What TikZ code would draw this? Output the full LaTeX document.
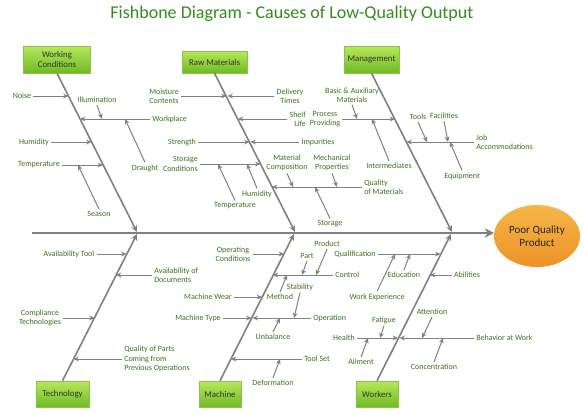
\documentclass[tikz,border=0pt]{standalone}
\usepackage{fontspec}
\setmainfont{Carlito}
\usetikzlibrary{shapes.geometric,arrows.meta}
\definecolor{lblgreen}{RGB}{62,112,32}
\definecolor{titlegreen}{RGB}{52,140,30}
\definecolor{bonegray}{RGB}{128,128,128}
\definecolor{boxtop}{RGB}{182,232,92}
\definecolor{boxbot}{RGB}{112,186,36}
\definecolor{boxline}{RGB}{140,196,70}
\definecolor{headtop}{RGB}{246,182,72}
\definecolor{headbot}{RGB}{236,146,40}
\tikzset{
  lbl/.style={font=\fontsize{6}{7}\selectfont, text=lblgreen, inner sep=1.5pt, align=center},
  arr/.style={draw=bonegray, line width=0.75pt, -{Stealth[length=4pt,width=3.6pt]}},
  bone/.style={draw=bonegray, line width=1.2pt, -{Stealth[length=5pt,width=4.5pt]}},
  spine/.style={draw=bonegray, line width=2.2pt, -{Stealth[length=7pt,width=7pt]}},
  catbox/.style={rectangle, draw=boxline, line width=0.4pt, top color=boxtop, bottom color=boxbot,
     font=\fontsize{6.6}{7.8}\selectfont, text={black!80}, align=center, inner sep=1pt},
}
\begin{document}
\begin{tikzpicture}[x=0.75pt,y=-0.75pt]
\useasboundingbox (0,0) rectangle (584,414);
\fill[white] (0,0) rectangle (584,414);

% title
\node[font=\fontsize{13.5}{15}\selectfont, text=titlegreen] (title) at (292,14) {Fishbone Diagram - Causes of Low-Quality Output};

% head
\node[ellipse, top color=headtop, bottom color=headbot, minimum width=86*0.75pt, minimum height=62*0.75pt,
  font=\fontsize{8.3}{10}\selectfont, text={black!85}, align=center, inner sep=0pt] (head) at (537,236) {Poor Quality\\Product};

% spine
\coordinate (tail) at (32,233);
\coordinate (tip) at (494,233);
\draw[spine] (tail) -- (tip);

% category boxes
\node[catbox, minimum width=67*0.75pt, minimum height=27*0.75pt] (wcbox) at (57,59.5) {Working\\Conditions};
\node[catbox, minimum width=65*0.75pt, minimum height=22*0.75pt] (rmbox) at (214.5,62) {Raw Materials};
\node[catbox, minimum width=55*0.75pt, minimum height=27*0.75pt] (mgbox) at (371.5,59.5) {Management};
\node[catbox, minimum width=53*0.75pt, minimum height=26*0.75pt] (techbox) at (62.5,394) {Technology};
\node[catbox, minimum width=42*0.75pt, minimum height=26*0.75pt] (machbox) at (220,394) {Machine};
\node[catbox, minimum width=42*0.75pt, minimum height=26*0.75pt] (workbox) at (377,394) {Workers};

% main bones
\coordinate (wcend) at (137,232);
\coordinate (rmend) at (295,232);
\coordinate (mgend) at (452,232);
\coordinate (techend) at (137,234);
\coordinate (machend) at (294,234);
\coordinate (workend) at (451,234);
\draw[bone] (wcbox.south) -- (wcend);
\draw[bone] (rmbox.south) -- (rmend);
\draw[bone] (mgbox.south) -- (mgend);
\draw[bone] (techbox.north) -- (techend);
\draw[bone] (machbox.north) -- (machend);
\draw[bone] (workbox.north) -- (workend);

% ---------- Working Conditions ----------
\node[lbl] (noise) at (22,96) {Noise};
\node[lbl] (illum) at (97,100) {Illumination};
\node[lbl, anchor=west] (workpl) at (150,119) {Workplace};
\node[lbl] (draught) at (145,168) {Draught};
\node[lbl] (humid1) at (34,142) {Humidity};
\node[lbl] (temp1) at (39,165) {Temperature};
\node[lbl] (season) at (99,214) {Season};
\coordinate (wc1) at (68.5,96);
\coordinate (wc2) at (80,119);
\coordinate (wc2a) at (102,119);
\coordinate (wc2b) at (125,119);
\coordinate (wc3) at (91.5,142);
\coordinate (wc4) at (103,165);
\coordinate (wc4a) at (78,165);
\draw[arr] (noise.east) -- (wc1);
\draw[arr] (workpl.west) -- (wc2);
\draw[arr] (illum.south) -- (wc2a);
\draw[arr] (draught.north) -- (wc2b);
\draw[arr] (humid1.east) -- (wc3);
\draw[arr] (temp1.east) -- (wc4);
\draw[arr] (season.north) -- (wc4a);

% ---------- Raw Materials ----------
\node[lbl] (moist) at (164,96) {Moisture\\Contents};
\node[lbl] (deliv) at (290,96) {Delivery\\Times};
\node[lbl, anchor=east, align=right] (shelf) at (308,119) {Shelf\\Life};
\node[lbl] (streng) at (182,142) {Strength};
\node[lbl] (impur) at (318,142) {Impurities};
\node[lbl, anchor=east, align=right] (storc) at (200,164) {Storage\\Conditions};
\node[lbl] (temp2) at (235,206) {Temperature};
\node[lbl] (humid2) at (257,194) {Humidity};
\node[lbl] (matcomp) at (287,163) {Material\\Composition};
\node[lbl] (mechprop) at (332,163) {Mechanical\\Properties};
\node[lbl, anchor=west, align=left] (qualmat) at (362,187) {Quality\\of Materials};
\node[lbl] (storage) at (330,224) {Storage};
\coordinate (rm1) at (226.5,96);
\coordinate (rm1b) at (227.5,96);
\coordinate (rm2) at (238,119);
\coordinate (rm3) at (249.5,142);
\coordinate (rm3b) at (250.5,142);
\coordinate (rm4) at (260.5,164);
\coordinate (rm4a) at (218,164);
\coordinate (rm4b) at (247,164);
\coordinate (rm5) at (272,187);
\coordinate (rm5a) at (293,187);
\coordinate (rm5b) at (337,187);
\coordinate (rm5c) at (315,187);
\draw[arr] (moist.east) -- (rm1);
\draw[arr] (deliv.west) -- (rm1b);
\draw[arr] (shelf.west) -- (rm2);
\draw[arr] (streng.east) -- (rm3);
\draw[arr] (impur.west) -- (rm3b);
\draw[arr] (storc.east) -- (rm4);
\draw[arr] (temp2.north) -- (rm4a);
\draw[arr] (humid2.north) -- (rm4b);
\draw[arr] (qualmat.west) -- (rm5);
\draw[arr] (matcomp.south) -- (rm5a);
\draw[arr] (mechprop.south) -- (rm5b);
\draw[arr] (storage.north) -- (rm5c);

% ---------- Management ----------
\node[lbl] (basic) at (352,95) {Basic \& Auxiliary\\Materials};
\node[lbl] (procprov) at (325,119) {Process\\Providing};
\node[lbl] (interm) at (389,166) {Intermediates};
\node[lbl, anchor=west, align=left] (jobacc) at (474,142) {Job\\Accommodations};
\node[lbl] (tools) at (418,117) {Tools};
\node[lbl] (facil) at (444,116) {Facilities};
\node[lbl] (equip) at (462,176) {Equipment};
\coordinate (mg1) at (395,119);
\coordinate (mg1a) at (357,119);
\coordinate (mg1b) at (372,119);
\coordinate (mg2) at (406.5,142);
\coordinate (mg2a) at (427,142);
\coordinate (mg2b) at (448,142);
\coordinate (mg2c) at (450,142);
\draw[arr] (procprov.east) -- (mg1);
\draw[arr] (basic.south) -- (mg1a);
\draw[arr] (interm.north) -- (mg1b);
\draw[arr] (jobacc.west) -- (mg2);
\draw[arr] (tools.south) -- (mg2a);
\draw[arr] (facil.south) -- (mg2b);
\draw[arr] (equip.north) -- (mg2c);

% ---------- Technology ----------
\node[lbl] (avtool) at (69,254) {Availability Tool};
\node[lbl, anchor=west, align=left] (avdoc) at (152,275) {Availability of\\Documents};
\node[lbl] (compl) at (40,318) {Compliance\\Technologies};
\node[lbl, anchor=west, align=left] (qparts) at (122,359) {Quality of Parts\\Coming from\\Previous Operations};
\coordinate (te1) at (126.5,254);
\coordinate (te2) at (116,275);
\coordinate (te3) at (94.5,318);
\coordinate (te4) at (73.5,359);
\draw[arr] (avtool.east) -- (te1);
\draw[arr] (avdoc.west) -- (te2);
\draw[arr] (compl.east) -- (te3);
\draw[arr] (qparts.west) -- (te4);

% ---------- Machine ----------
\node[lbl] (opcond) at (233,254) {Operating\\Conditions};
\node[lbl, anchor=west] (control) at (333,275) {Control};
\node[lbl] (part) at (307,256) {Part};
\node[lbl] (product) at (327,244) {Product};
\node[lbl] (method) at (280,297) {Method};
\node[lbl] (mwear) at (208,297) {Machine Wear};
\node[lbl] (mtype) at (198,318) {Machine Type};
\node[lbl, anchor=west] (operation) at (311,318) {Operation};
\node[lbl] (stability) at (300,287) {Stability};
\node[lbl] (unbal) at (273,337) {Unbalance};
\node[lbl, anchor=west] (toolset) at (302,359) {Tool Set};
\node[lbl] (deform) at (273,383) {Deformation};
\coordinate (ma1) at (284,254);
\coordinate (ma2) at (273,275);
\coordinate (ma2a) at (302,275);
\coordinate (ma2b) at (316,275);
\coordinate (ma2c) at (287,275);
\coordinate (ma3) at (262,297);
\coordinate (ma4) at (251.5,318);
\coordinate (ma4b) at (252.5,318);
\coordinate (ma4c) at (294,318);
\coordinate (ma4d) at (280,318);
\coordinate (ma5) at (231,359);
\coordinate (ma5a) at (280,359);
\draw[arr] (opcond.east) -- (ma1);
\draw[arr] (control.west) -- (ma2);
\draw[arr] (part.south) -- (ma2a);
\draw[arr] (product.south) -- (ma2b);
\draw[arr] (method.north) -- (ma2c);
\draw[arr] (mwear.east) -- (ma3);
\draw[arr] (mtype.east) -- (ma4);
\draw[arr] (operation.west) -- (ma4b);
\draw[arr] (stability.south) -- (ma4c);
\draw[arr] (unbal.north) -- (ma4d);
\draw[arr] (toolset.west) -- (ma5);
\draw[arr] (deform.north) -- (ma5a);

% ---------- Workers ----------
\node[lbl] (qualif) at (355,254) {Qualification};
\node[lbl] (educ) at (404,275) {Education};
\node[lbl] (workexp) at (377,297) {Work Experience};
\node[lbl] (abil) at (467,275) {Abilities};
\node[lbl] (health) at (344,338) {Health};
\node[lbl, anchor=west] (behav) at (474,338) {Behavior at Work};
\node[lbl] (fatigue) at (384,320) {Fatigue};
\node[lbl] (ailment) at (361,362) {Ailment};
\node[lbl] (attention) at (432,312) {Attention};
\node[lbl] (concen) at (434,367) {Concentration};
\coordinate (wo1) at (440.5,254);
\coordinate (wo1a) at (410,254);
\coordinate (wo1b) at (395,254);
\coordinate (wo2) at (430,275);
\coordinate (wo3) at (398,338);
\coordinate (wo3b) at (399.5,338);
\coordinate (wo3a) at (380,338);
\coordinate (wo3c) at (368,338);
\coordinate (wo3d) at (422,338);
\coordinate (wo3e) at (443,338);
\draw[arr] (qualif.east) -- (wo1);
\draw[arr] (educ.north) -- (wo1a);
\draw[arr] (workexp.north) -- (wo1b);
\draw[arr] (abil.west) -- (wo2);
\draw[arr] (health.east) -- (wo3);
\draw[arr] (behav.west) -- (wo3b);
\draw[arr] (fatigue.south) -- (wo3a);
\draw[arr] (ailment.north) -- (wo3c);
\draw[arr] (attention.south) -- (wo3d);
\draw[arr] (concen.north) -- (wo3e);
\end{tikzpicture}
\end{document}
